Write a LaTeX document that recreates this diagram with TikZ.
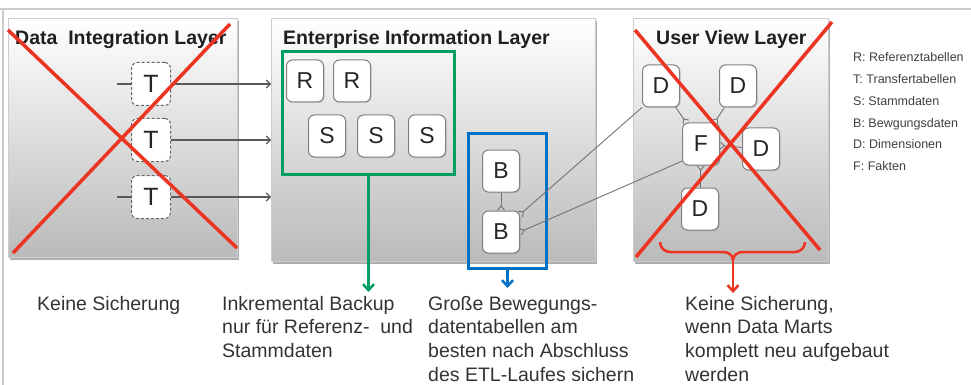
\documentclass[tikz,border=0pt]{standalone}
\usepackage{fontspec}
\setmainfont{Liberation Sans}
\usetikzlibrary{arrows.meta,shadows}
\definecolor{xred}{RGB}{236,52,34}
\definecolor{xgreen}{RGB}{0,158,96}
\definecolor{xblue}{RGB}{0,114,198}
\begin{document}
\begin{tikzpicture}[x=1pt,y=-1pt,
  panel/.style={draw=black!20, line width=0.6, top color=white, bottom color=black!27,
    inner sep=0, anchor=north west,
    drop shadow={shadow xshift=1.5pt, shadow yshift=-3pt, opacity=0.45, fill=black!70}},
  tbl/.style={draw=black!50, line width=1, fill=white, rounded corners=6,
    minimum width=37, minimum height=42, inner sep=0,
    font=\fontsize{23}{23}\selectfont, text=black!85,
    drop shadow={shadow xshift=1pt, shadow yshift=-1pt, opacity=0.3}},
  tdash/.style={draw=black!60, line width=1, densely dashed, fill=white, rounded corners=6,
    minimum width=39, minimum height=43, inner sep=0,
    font=\fontsize{25}{25}\selectfont, text=black!85},
  title/.style={font=\fontsize{19.5}{20}\selectfont\bfseries, text=black!88, inner sep=0, anchor=base west},
  btext/.style={font=\fontsize{19.5}{23.6}\selectfont, text=black!80, align=left, inner sep=0, anchor=north west},
  legend/.style={font=\fontsize{12.5}{21.8}\selectfont, text=black!75, align=left, inner sep=0, anchor=north west},
  flow/.style={draw=black!65, line width=1.2, -{Straight Barb[length=4,width=8]}},
  erline/.style={draw=black!55, line width=0.9},
  crow/.style={erline, -{Straight Barb[reversed,length=4,width=7]}},
  cross/.style={draw=xred, line width=3.5},
  bigarrow/.style={line width=2.5, -{Straight Barb[length=6,width=11]}}
]
\useasboundingbox (0,0) rectangle (971,385);
% frame
\draw[black!20, line width=2] (0,9) -- (971,9);
\draw[black!20, line width=1.5] (3,9) -- (3,385);

% panels
\node[panel, minimum width=229, minimum height=239] (lp) at (8,18) {};
\node[panel, minimum width=324, minimum height=243] (mp) at (271,18) {};
\node[panel, minimum width=195, minimum height=243] (rp) at (633,18) {};

% titles
\node[title] (lt) at (15,45) {Data\ \ Integration Layer};
\node[title] (mt) at (283,45) {Enterprise Information Layer};
\node[title] (rt) at (656,45) {User View Layer};

% left panel: transfer tables
\node[tdash] (t1) at (151,84) {T};
\node[tdash] (t2) at (151,140) {T};
\node[tdash] (t3) at (151,197) {T};
\coordinate (t1in) at (117,84);
\coordinate (t3in) at (117,197);
\draw[erline, draw=black!65, line width=1.2] (t1in) -- (t1);
\draw[erline, draw=black!65, line width=1.2] (t3in) -- (t3);
\draw[flow] (t1) -- (t1 -| mp.west);
\draw[flow] (t2) -- (t2 -| mp.west);
\draw[flow] (t3) -- (t3 -| mp.west);

% middle panel
\node[draw=xgreen, line width=3, minimum width=172, minimum height=123, inner sep=0, anchor=north west] (gbox) at (281,50) {};
\node[tbl] (r1) at (305,81) {R};
\node[tbl] (r2) at (352,81) {R};
\node[tbl] (s1) at (327,136) {S};
\node[tbl] (s2) at (376,136) {S};
\node[tbl] (s3) at (427,136) {S};
\node[draw=xblue, line width=3, minimum width=78, minimum height=135, inner sep=0, anchor=north west] (bbox) at (467,132) {};
\node[tbl] (b1) at (501,171) {B};
\node[tbl] (b2) at (501,232) {B};
\draw[crow] (b1) -- (b2);

% right panel
\node[tbl] (d1) at (661,86) {D};
\node[tbl] (d2) at (738,86) {D};
\node[tbl] (f) at (701,144) {F};
\node[tbl] (d3) at (761,149) {D};
\node[tbl] (d4) at (700,209) {D};
\draw[crow] (d1) -- (f);
\draw[crow] (d2) -- (f);
\draw[crow] (d3) -- (f);
\draw[crow] (d4) -- (f);
\draw[crow] (d1.south west) -- ([yshift=-4pt]b2.north east);
\draw[crow] (f.222) -- (b2.east);

% red crosses
\draw[cross] (8,30) -- (237,248);
\draw[cross] (230,24) -- (13,253);
\draw[cross] (635,30) -- (820,250);
\draw[cross] (832,22) -- (636,257);

% red brace
\coordinate (brtip) at (733,260);
\draw[xred, line width=2.5] (660,242) to[out=-90,in=180] (670,252) -- (723,252)
  to[out=0,in=90] (brtip) to[out=90,in=180] (743,252) -- (795,252) to[out=0,in=-90] (805,242);

% legend
\node[legend] (leg) at (853,52.5) {R: Referenztabellen\\T: Transfertabellen\\S: Stammdaten\\B: Bewgungsdaten\\D: Dimensionen\\F: Fakten};

% bottom texts
\node[btext] (k1) at (37,296) {Keine Sicherung};
\node[btext] (k2) at (222,296) {Inkremental Backup\\nur für Referenz-\ \ und\\Stammdaten};
\node[btext] (k3) at (428,296) {Große Bewegungs-\\datentabellen am\\besten nach Abschluss\\des ETL-Laufes sichern};
\node[btext] (k4) at (685,296) {Keine Sicherung,\\wenn Data Marts\\komplett neu aufgebaut\\werden};

% big arrows
\draw[bigarrow, xgreen] (gbox.south) -- (gbox.south |- 0,292);
\draw[bigarrow, xblue] (bbox.south) -- (bbox.south |- 0,288);
\draw[bigarrow, xred] (brtip) -- (brtip |- 0,293);
\end{tikzpicture}
\end{document}
